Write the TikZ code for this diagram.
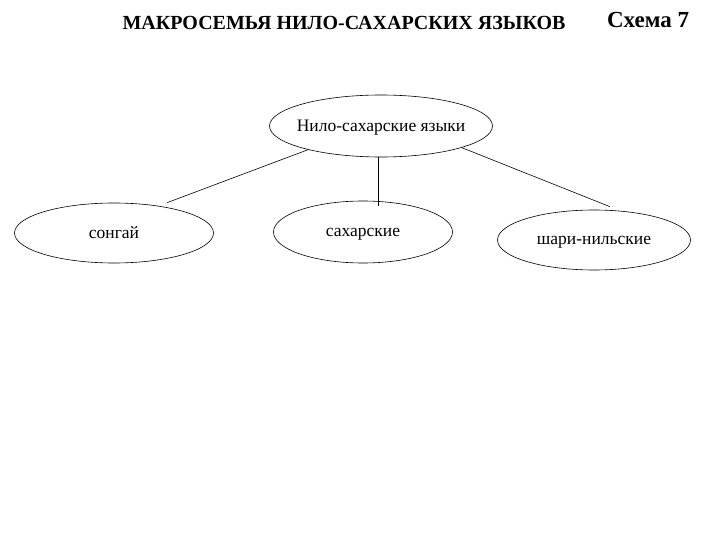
\documentclass[tikz,border=0pt]{standalone}
\usepackage{fontspec}
\setmainfont{Liberation Serif}
\usetikzlibrary{shapes.geometric, positioning}

\begin{document}
\begin{tikzpicture}[
  x=1pt, y=-1pt,
  every node/.style={font=\rmfamily},
  lang/.style={draw, ellipse, line width=0.6pt, inner ysep=0pt, inner xsep=-10pt,
               text depth=0pt, font=\fontsize{17.5}{19}\selectfont},
  link/.style={line width=0.6pt}
]
  \useasboundingbox (0,0) rectangle (720,540);

  \node[font=\bfseries\fontsize{20}{22}\selectfont] (title) at (344,23) {МАКРОСЕМЬЯ НИЛО-САХАРСКИХ ЯЗЫКОВ};
  \node[font=\bfseries\fontsize{23}{25}\selectfont] (scheme) at (648,20) {Схема 7};

  \node[lang, minimum width=223pt, minimum height=62pt] (nilo) at (381,126) {Нило-сахарские языки};
  \node[lang, minimum width=199pt, minimum height=60pt] (songhai) at (114,233) {сонгай};
  \node[lang, minimum width=179pt, minimum height=62pt] (sahar) at (363,232) {сахарские};
  \node[lang, minimum width=193pt, minimum height=60pt] (shari) at (594,240) {шари-нильские};

  \draw[link] (nilo.198) -- ([xshift=53pt]songhai.north);
  \draw[link] ([xshift=-3pt]nilo.south) -- ([xshift=-3pt,yshift=-5pt]nilo.south |- sahar.north);
  \draw[link] (nilo.345) -- ([xshift=16pt,yshift=3pt]shari.north);
\end{tikzpicture}
\end{document}
